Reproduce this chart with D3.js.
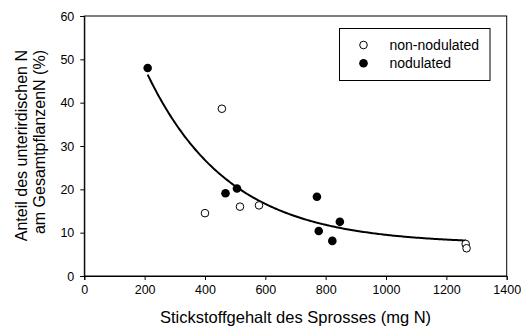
<!DOCTYPE html>
<html>
<head>
<meta charset="utf-8">
<script src="https://cdn.jsdelivr.net/npm/d3@7"></script>
<style>
  body { margin: 0; background: #fff; }
  svg { display: block; font-family: "Liberation Sans", Arial, sans-serif; }
</style>
</head>
<body>
<svg id="chart" width="521" height="329"></svg>
<script>
// data
const nonNodX = [400, 456, 516, 579, 1264, 1267];
const nonNodY = [14.5, 38.6, 16.0, 16.3, 7.4, 6.4];
const nodX = [210, 468, 506, 771, 777, 822, 847];
const nodY = [48.0, 19.1, 20.2, 18.3, 10.4, 8.1, 12.5];

// exponential decay fit y = y0 + a * exp(-b * x), drawn from 210 to 1265
const fitY0 = 7.4, fitA = 85, fitB = 0.0037;
const fitRange = [210, 1265];

const xTicks = [0, 200, 400, 600, 800, 1000, 1200, 1400];
const yTicks = [0, 10, 20, 30, 40, 50, 60];
const legendLabels = ["non-nodulated", "nodulated"];

const margin = { left: 84.3, top: 16, right: 14.3, bottom: 53 };
const width = 521 - margin.left - margin.right;
const height = 329 - margin.top - margin.bottom;

const svg = d3.select("#chart");
const g = svg.append("g")
  .attr("transform", "translate(" + margin.left + "," + margin.top + ")");

const x = d3.scaleLinear().domain([0, 1400]).range([0, width]);
const y = d3.scaleLinear().domain([0, 60]).range([height, 0]);

// frame
g.append("rect")
  .attr("width", width)
  .attr("height", height)
  .attr("fill", "none")
  .attr("stroke", "#000")
  .attr("stroke-width", 1);

// axes
const xAxis = g.append("g")
  .attr("transform", "translate(0," + height + ")")
  .call(d3.axisBottom(x).tickValues(xTicks).tickSize(4).tickPadding(5).tickFormat(d3.format("d")));
const yAxis = g.append("g")
  .call(d3.axisLeft(y).tickValues(yTicks).tickSize(4).tickPadding(6).tickFormat(d3.format("d")));

[xAxis, yAxis].forEach(a => {
  a.select(".domain").attr("stroke", "#000");
  a.selectAll(".tick line").attr("stroke", "#000");
  a.selectAll("text")
    .attr("fill", "#000")
    .style("font-family", "'Liberation Sans', Arial, sans-serif")
    .style("font-size", "12.5px");
});

// fit curve
const curvePts = d3.range(fitRange[0], fitRange[1] + 1, 5)
  .map(v => [v, fitY0 + fitA * Math.exp(-fitB * v)]);
g.append("path")
  .datum(curvePts)
  .attr("fill", "none")
  .attr("stroke", "#000")
  .attr("stroke-width", 2)
  .attr("d", d3.line().x(d => x(d[0])).y(d => y(d[1])));

// points
g.selectAll("circle.open")
  .data(nonNodX.map((v, i) => [v, nonNodY[i]]))
  .enter()
  .append("circle")
  .attr("class", "open")
  .attr("cx", d => x(d[0]))
  .attr("cy", d => y(d[1]))
  .attr("r", 3.8)
  .attr("fill", "#fff")
  .attr("stroke", "#000")
  .attr("stroke-width", 1);

g.selectAll("circle.filled")
  .data(nodX.map((v, i) => [v, nodY[i]]))
  .enter()
  .append("circle")
  .attr("class", "filled")
  .attr("cx", d => x(d[0]))
  .attr("cy", d => y(d[1]))
  .attr("r", 4.3)
  .attr("fill", "#000");

// legend
const legend = svg.append("g").attr("transform", "translate(339.5,28.5)");
legend.append("rect")
  .attr("width", 150.5)
  .attr("height", 52)
  .attr("fill", "#fff")
  .attr("stroke", "#000")
  .attr("stroke-width", 1);
legendLabels.forEach((lab, i) => {
  const cy = 16.5 + i * 18.3;
  legend.append("circle")
    .attr("cx", 24)
    .attr("cy", cy)
    .attr("r", i === 0 ? 3.8 : 4.3)
    .attr("fill", i === 0 ? "#fff" : "#000")
    .attr("stroke", i === 0 ? "#000" : "none");
  legend.append("text")
    .attr("x", 50)
    .attr("y", cy + 5)
    .style("font-size", "14px")
    .text(lab);
});

// axis titles
svg.append("text")
  .attr("x", margin.left + width / 2)
  .attr("y", 323)
  .attr("text-anchor", "middle")
  .style("font-size", "16.5px")
  .text("Stickstoffgehalt des Sprosses (mg N)");

const yTitle = ["Anteil des unterirdischen N", "am GesamtpflanzenN (%)"];
yTitle.forEach((t, i) => {
  svg.append("text")
    .attr("transform", "translate(" + (26.5 + i * 18.5) + ",50) rotate(-90)")
    .attr("text-anchor", "end")
    .style("font-size", "16px")
    .text(t);
});
</script>
</body>
</html>
